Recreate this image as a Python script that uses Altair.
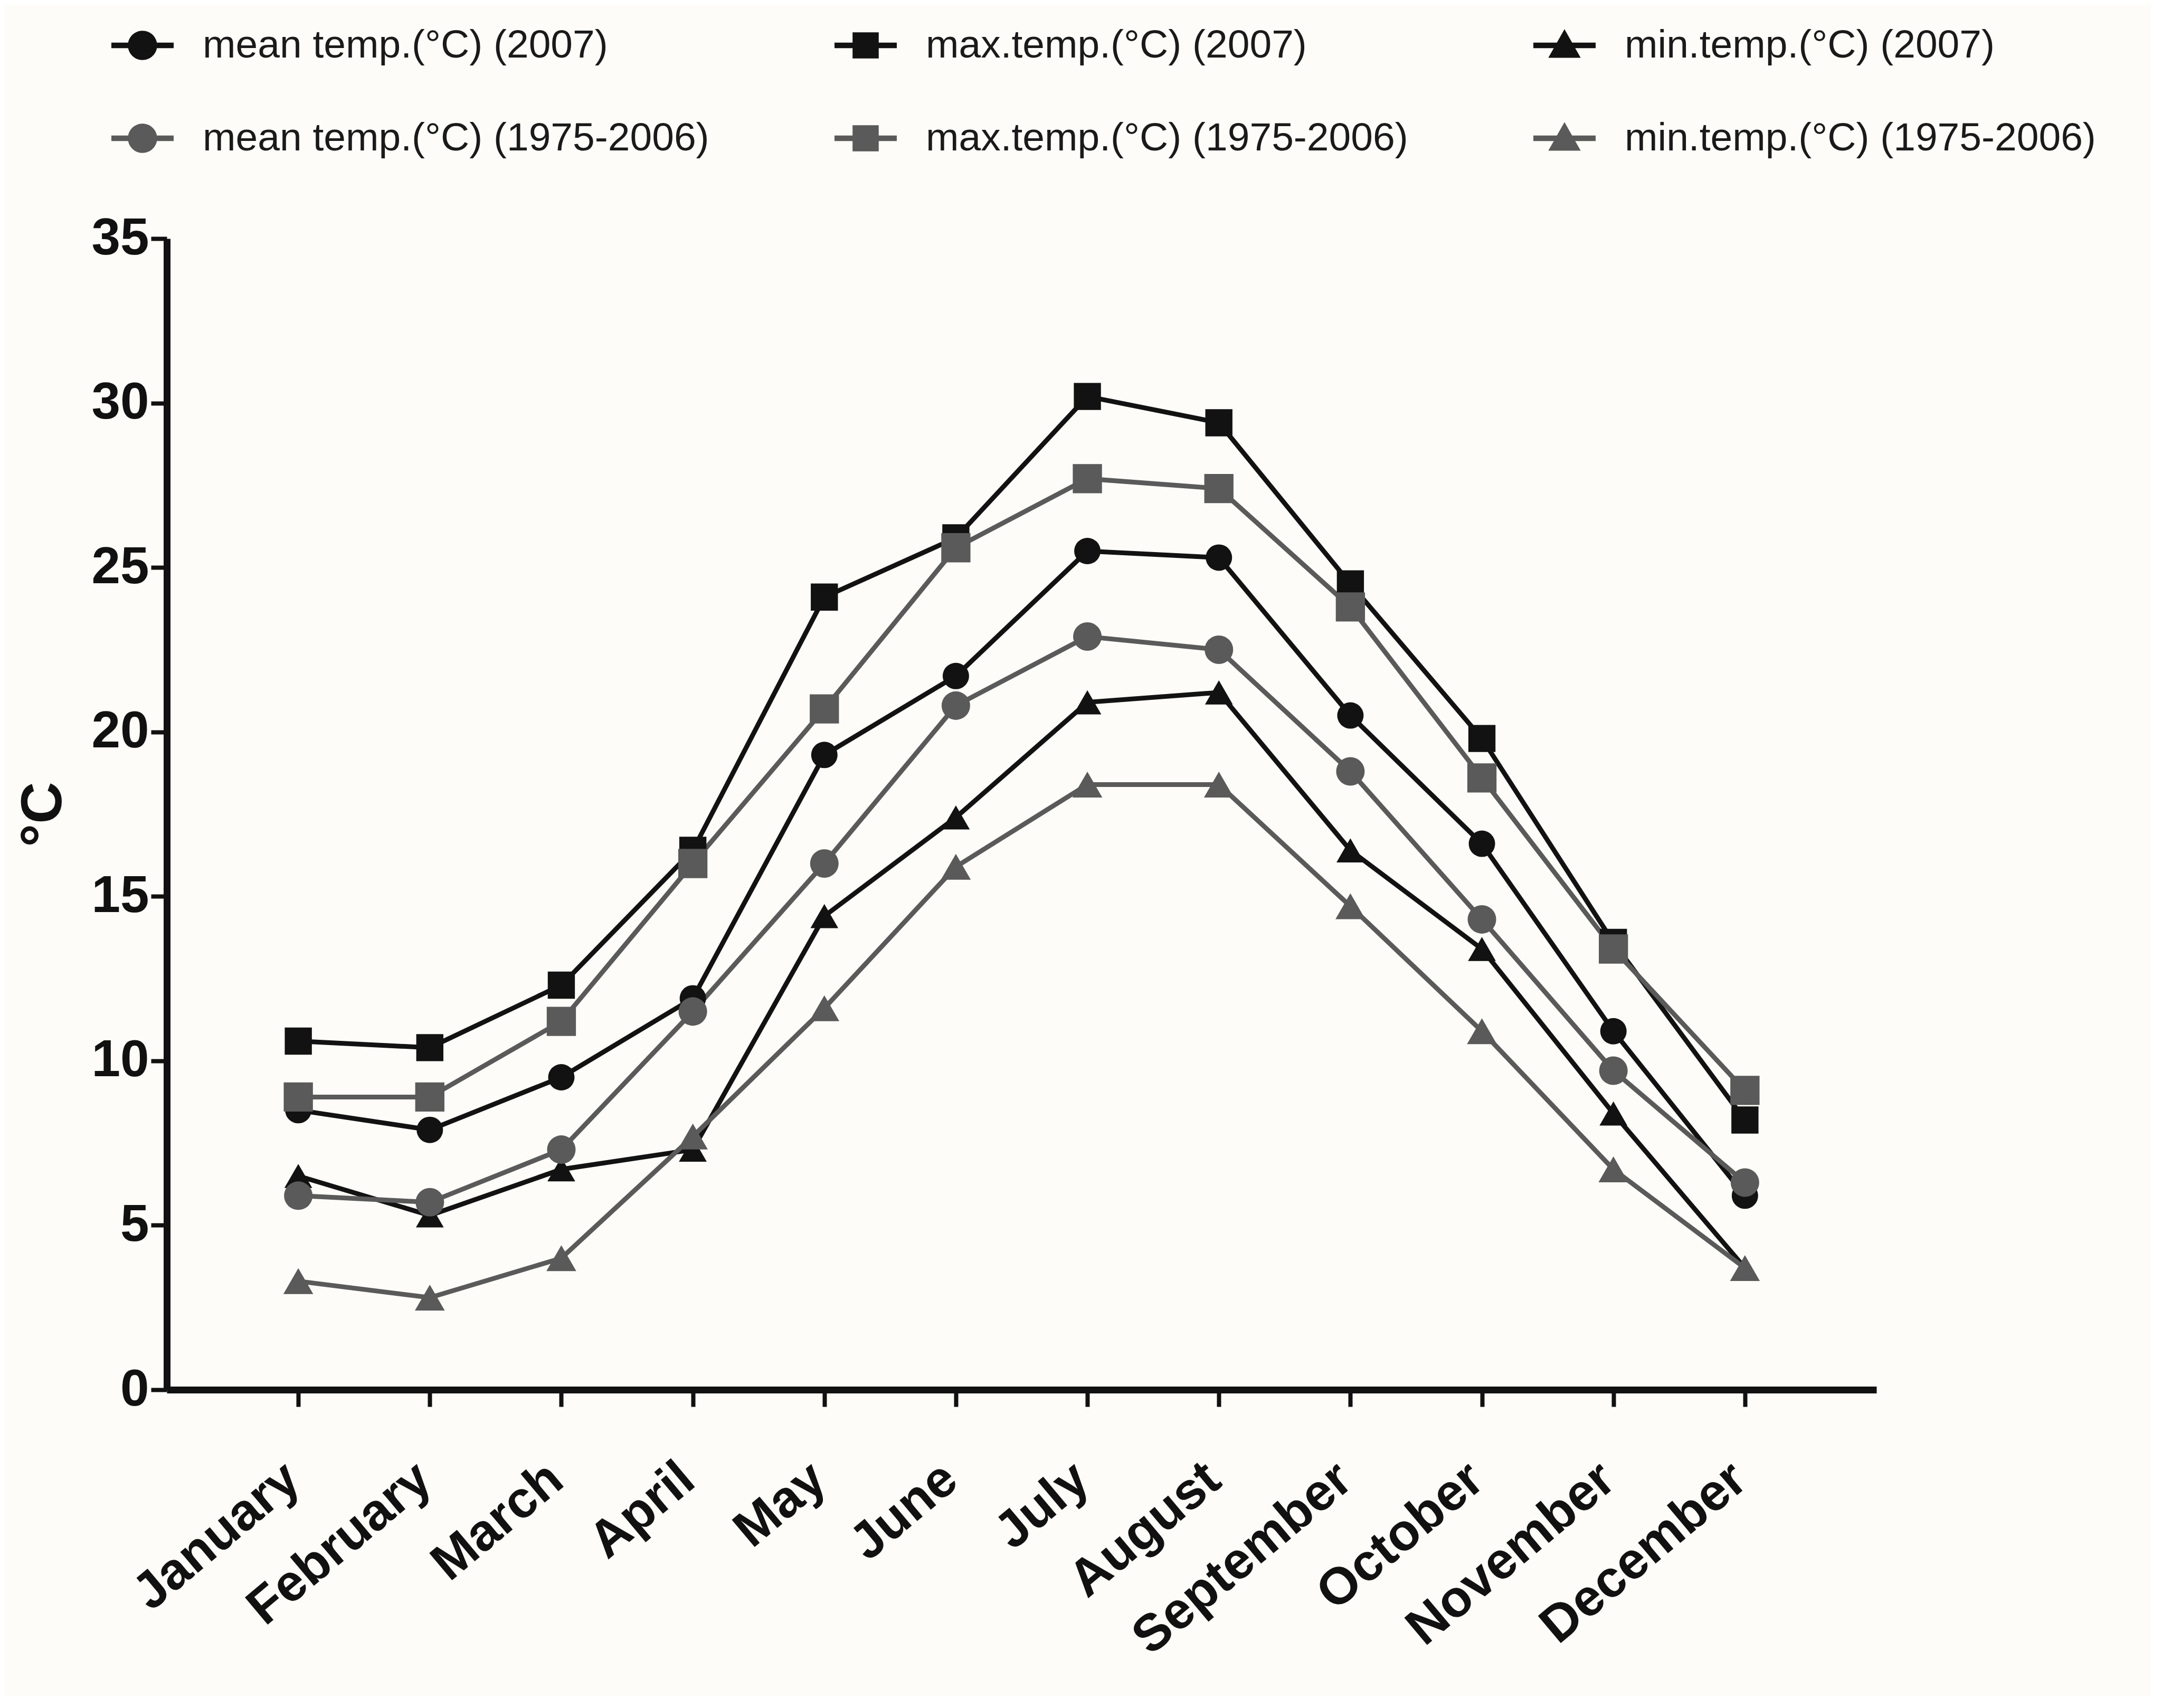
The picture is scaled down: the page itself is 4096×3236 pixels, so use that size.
import altair as alt
import pandas as pd

months = ["January", "February", "March", "April", "May", "June", "July",
          "August", "September", "October", "November", "December"]

series_names = [
    "mean temp.(°C) (2007)", "max.temp.(°C) (2007)", "min.temp.(°C) (2007)",
    "mean temp.(°C) (1975-2006)", "max.temp.(°C) (1975-2006)", "min.temp.(°C) (1975-2006)",
]

mean_2007 = [8.5, 7.9, 9.5, 11.9, 19.3, 21.7, 25.5, 25.3, 20.5, 16.6, 10.9, 5.9]
max_2007 = [10.6, 10.4, 12.3, 16.4, 24.1, 25.9, 30.2, 29.4, 24.5, 19.8, 13.6, 8.2]
min_2007 = [6.5, 5.3, 6.7, 7.3, 14.4, 17.4, 20.9, 21.2, 16.4, 13.4, 8.4, 3.7]
mean_1975_2006 = [5.9, 5.7, 7.3, 11.5, 16.0, 20.8, 22.9, 22.5, 18.8, 14.3, 9.7, 6.3]
max_1975_2006 = [8.9, 8.9, 11.2, 16.0, 20.7, 25.6, 27.7, 27.4, 23.8, 18.6, 13.4, 9.1]
min_1975_2006 = [3.3, 2.8, 4.0, 7.7, 11.6, 15.9, 18.4, 18.4, 14.7, 10.9, 6.7, 3.7]

series_values = [mean_2007, max_2007, min_2007, mean_1975_2006, max_1975_2006, min_1975_2006]

BLACK = "#121212"
GRAY = "#5a5a5a"
series_colors = [BLACK, BLACK, BLACK, GRAY, GRAY, GRAY]
series_shapes = ["circle", "square", "triangle-up", "circle", "square", "triangle-up"]
series_sizes = [2500, 3200, 3400, 3100, 3900, 4400]

BAR = "M-1,-0.09H1V0.09H-1Z"
CIRC = "M0.47,0A0.47,0.47,0,1,1,-0.47,0A0.47,0.47,0,1,1,0.47,0Z"
SQR = "M-0.42,-0.42H0.42V0.42H-0.42Z"
TRI = "M0,-0.52L0.52,0.4L-0.52,0.4Z"
series_legend_shapes = [BAR + CIRC, BAR + SQR, BAR + TRI, BAR + CIRC, BAR + SQR, BAR + TRI]

# legend grid is filled column by column (2 rows x 3 columns)
legend_order_idx = [0, 3, 1, 4, 2, 5]
legend_domain = [series_names[i] for i in legend_order_idx]
legend_colors = [series_colors[i] for i in legend_order_idx]
legend_shapes = [series_legend_shapes[i] for i in legend_order_idx]

rows = []
for name, vals in zip(series_names, series_values):
    for m, v in zip(months, vals):
        rows.append({"month": m, "series": name, "value": v})
df = pd.DataFrame(rows)

FONT = "Liberation Sans"
INK = "#111111"

x_enc = alt.X(
    "month:N", sort=months,
    scale=alt.Scale(type="point", domain=months, padding=1),
    axis=alt.Axis(
        title=None, labelAngle=-40, labelAlign="right", labelBaseline="middle",
        labelFontSize=98, labelFontWeight="bold", labelFont=FONT, labelColor=INK,
        labelPadding=125, labelOffset=-10, labelLimit=2000, labelOverlap=False,
        tickSize=32, tickWidth=8, tickColor=INK, domainWidth=13, domainColor=INK,
        grid=False,
    ),
)
y_enc = alt.Y(
    "value:Q",
    scale=alt.Scale(domain=[0, 35], nice=False, zero=True),
    axis=alt.Axis(
        title="°C", values=[0, 5, 10, 15, 20, 25, 30, 35],
        labelFontSize=98, labelFontWeight="bold", labelFont=FONT, labelColor=INK,
        labelPadding=4, labelFlush=False,
        tickSize=30, tickWidth=8, tickColor=INK, domainWidth=13, domainColor=INK,
        titleFontSize=110, titleFontWeight="bold", titleFont=FONT, titleColor=INK,
        titlePadding=34, grid=False,
    ),
)

color_enc = alt.Color("series:N", scale=alt.Scale(domain=series_names, range=series_colors), legend=None)

base = alt.Chart(df)

lines = base.mark_line(strokeWidth=9).encode(x=x_enc, y=y_enc, color=color_enc)

points = base.mark_point(filled=True, opacity=1, strokeWidth=0).encode(
    x=x_enc, y=y_enc, color=color_enc,
    shape=alt.Shape("series:N", scale=alt.Scale(domain=series_names, range=series_shapes), legend=None),
    size=alt.Size("series:N", scale=alt.Scale(domain=series_names, range=series_sizes), legend=None),
)

leg = alt.Legend(
    title=None, orient="none", legendX=-105, legendY=-425, columns=3,
    columnPadding=237, rowPadding=79, symbolSize=13924, symbolOpacity=1,
    symbolStrokeWidth=0, labelFontSize=75, labelFont=FONT, labelColor="#1a1a1a",
    labelOffset=55, labelLimit=2000, padding=0,
)

legend_layer = base.mark_point(filled=True, opacity=0, strokeWidth=0).encode(
    x=x_enc, y=y_enc,
    fill=alt.Fill("series:N", scale=alt.Scale(domain=legend_domain, range=legend_colors), legend=leg),
    shape=alt.Shape("series:N", scale=alt.Scale(domain=legend_domain, range=legend_shapes), legend=leg),
)

chart = (
    alt.layer(lines, points, legend_layer)
    .resolve_scale(shape="independent", fill="independent")
    .properties(
        width=3239, height=2181,
        autosize=alt.AutoSizeParams(type="none"),
        padding={"left": 308, "top": 444, "right": 520, "bottom": 580},
        background="#fdfcf8",
    )
    .configure_view(stroke=None)
)

chart.save("out.html", embed_options={"renderer": "svg", "actions": False})
